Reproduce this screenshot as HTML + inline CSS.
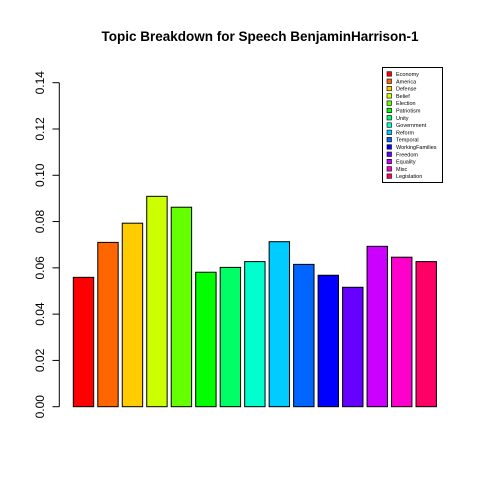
<!DOCTYPE html>
<html><head><meta charset="utf-8"><style>
body{margin:0;background:#fff}
svg{display:block;font-family:"Liberation Sans",Arial,sans-serif}
</style></head><body>
<svg id="chart" width="480" height="480" viewBox="0 0 480 480">
<rect width="480" height="480" fill="#fff"/>
<text x="260" y="41" text-anchor="middle" font-weight="bold" font-size="13.5">Topic Breakdown for Speech BenjaminHarrison-1</text>
<g id="axis"></g>
<g id="bars"></g>
<g id="legend"></g>
</svg>
<script>
const categories=["Economy","America","Defense","Belief","Election","Patriotism","Unity","Government","Reform","Temporal","WorkingFamilies","Freedom","Equality","Misc","Legislation"];
const values=[0.0559,0.0710,0.0793,0.0909,0.0862,0.0581,0.0602,0.0627,0.0713,0.0615,0.0568,0.0516,0.0693,0.0646,0.0627];
const colors=["#FF0000","#FF6600","#FFCC00","#CCFF00","#66FF00","#00FF00","#00FF66","#00FFCC","#00CCFF","#0066FF","#0000FF","#6600FF","#CC00FF","#FF00CC","#FF0066"];
const ticks=[0,0.02,0.04,0.06,0.08,0.10,0.12,0.14];
const tickLabels=["0.00","0.02","0.04","0.06","0.08","0.10","0.12","0.14"];
const NS="http://www.w3.org/2000/svg";
const y0=406.7,y1=82.7,vmax=0.14;
function yS(v){return y0-(v/vmax)*(y0-y1);}
const unit=20.4,x0=73.3-0.2*unit;
function xS(i){return x0+(0.2+i*1.2)*unit;}
function mk(t,a,p){const e=document.createElementNS(NS,t);for(const k in a)e.setAttribute(k,a[k]);p.appendChild(e);return e;}
const ax=document.getElementById('axis');
const axl=mk('line',{x1:59.3,x2:59.3,y1:yS(0),y2:yS(0.14),stroke:'#000'},ax);


ticks.forEach((t,i)=>{const y=yS(t);
const tl=mk('line',{x1:52.5,x2:59.3,y1:y,y2:y,stroke:'#000'},ax);


const tx=mk('text',{x:0,y:0,transform:`translate(44,${y}) rotate(-90)`,'text-anchor':'middle','font-size':'12'},ax);
tx.textContent=tickLabels[i];

});
const bg=document.getElementById('bars');
values.forEach((v,i)=>{const r=mk('rect',{x:xS(i),y:yS(v),width:unit,height:yS(0)-yS(v),fill:colors[i],stroke:'#000','stroke-width':1},bg);

});
const lg=document.getElementById('legend');
const lb=mk('rect',{x:382.5,y:67.5,width:60,height:115,fill:'#fff',stroke:'#000'},lg);


categories.forEach((c,i)=>{const y=74+i*7.3;
const s=mk('rect',{x:387,y:y-2.3,width:4.5,height:4.5,fill:colors[i],stroke:'#000','stroke-width':0.6},lg);


const t=mk('text',{x:396,y:y+2,'font-size':'5.5'},lg);t.textContent=c;

});
</script>
</body></html>
